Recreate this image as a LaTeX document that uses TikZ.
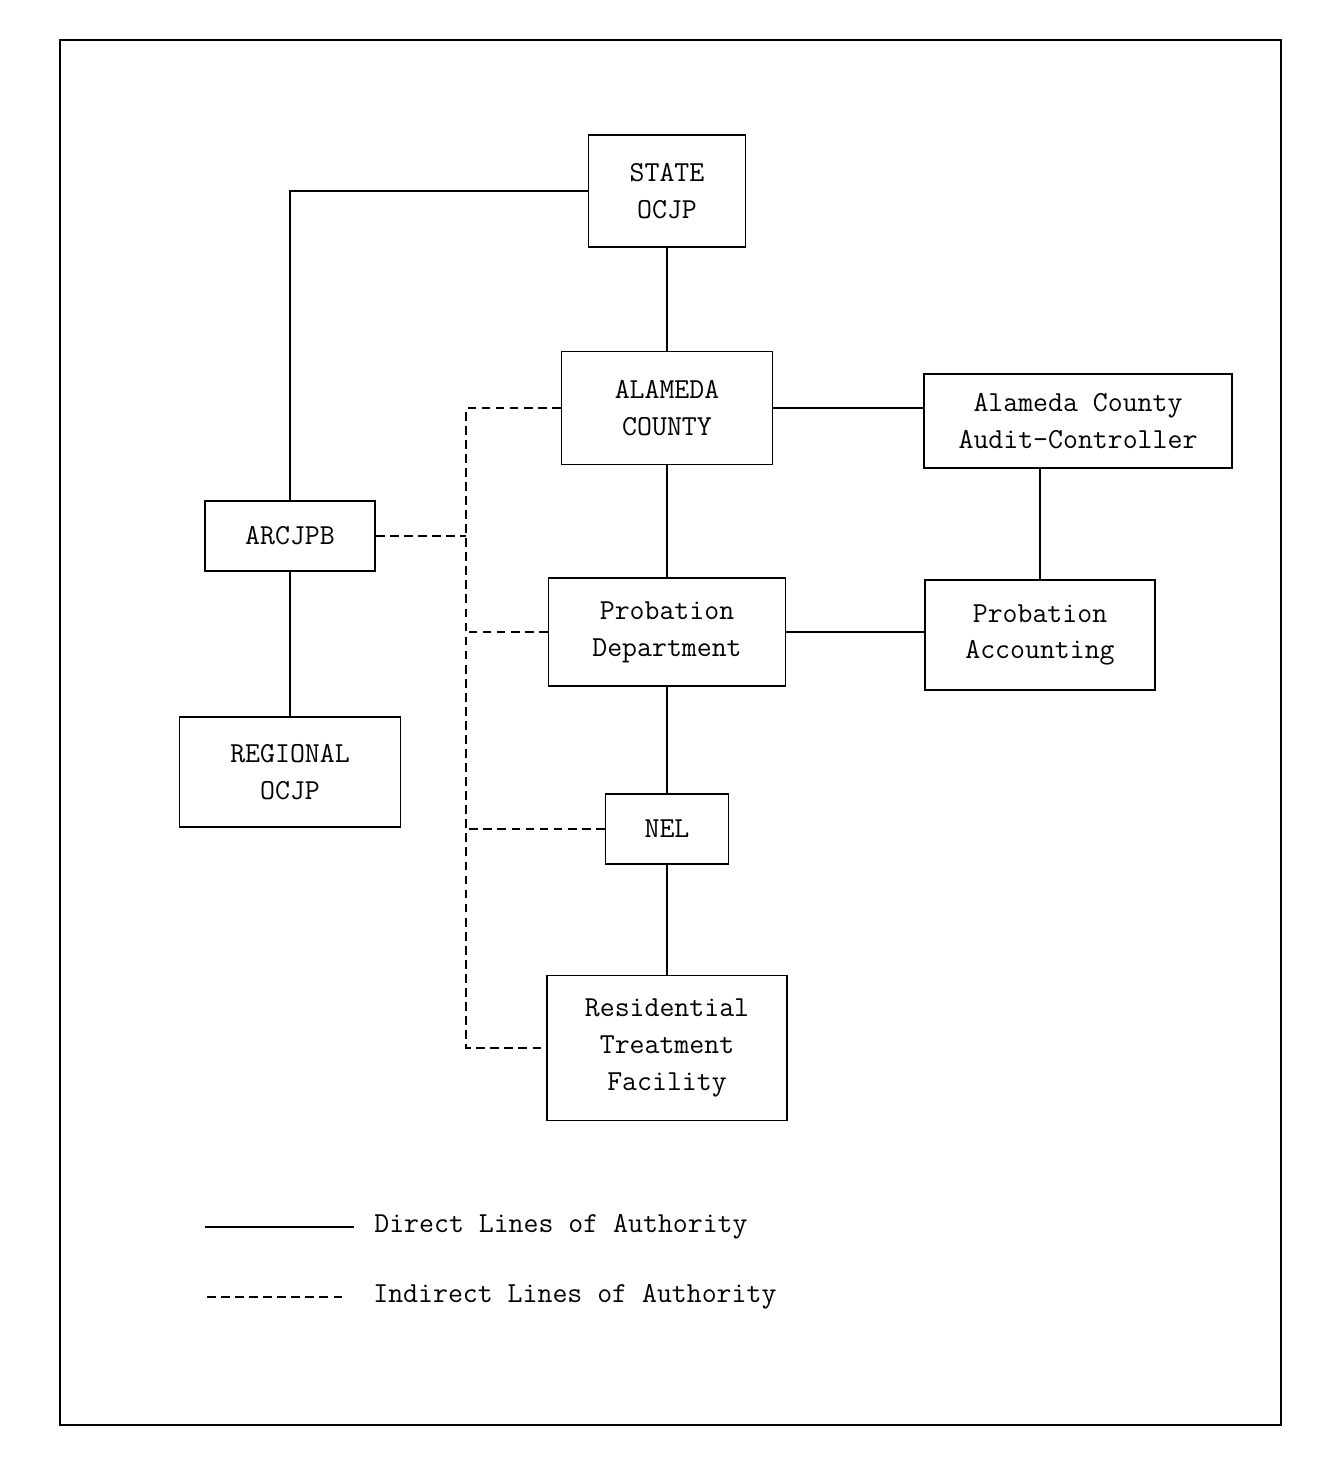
\documentclass[tikz,border=0pt]{standalone}
\usepackage{tikz}
\usetikzlibrary{positioning}

\begin{document}
\begin{tikzpicture}[x=0.02cm,y=-0.02cm,
  caja/.style={draw, line width=1pt, align=center, inner sep=0pt,
    font=\ttfamily\fontsize{16.5}{21}\selectfont},
  leyenda/.style={font=\ttfamily\fontsize{16.5}{21}\selectfont, anchor=west, inner sep=0pt},
  directa/.style={line width=0.8pt},
  indirecta/.style={line width=0.8pt, dash pattern=on 5pt off 3pt}]
  \useasboundingbox (0,0) rectangle (1322,1466);

  % Marco
  \draw[line width=0.8pt] (60,40) rectangle (1281,1425);

  % Cajas
  \node[caja, minimum width=3.14cm, minimum height=2.24cm] (state) at (667,191) {STATE\\OCJP};
  \node[caja, minimum width=4.22cm, minimum height=2.26cm] (county) at (667,408) {ALAMEDA\\COUNTY};
  \node[caja, minimum width=6.16cm, minimum height=1.88cm] (audit) at (1078,421) {Alameda County\\Audit-Controller};
  \node[caja, minimum width=3.4cm, minimum height=1.4cm] (arcjpb) at (290,536) {ARCJPB};
  \node[caja, minimum width=4.74cm, minimum height=2.16cm] (probdept) at (667,632) {Probation\\Department};
  \node[caja, minimum width=4.6cm, minimum height=2.2cm] (probacct) at (1040,635) {Probation\\Accounting};
  \node[caja, minimum width=4.42cm, minimum height=2.2cm] (regional) at (290,772) {REGIONAL\\OCJP};
  \node[caja, minimum width=2.46cm, minimum height=1.4cm] (nel) at (667,829) {NEL};
  \node[caja, minimum width=4.8cm, minimum height=2.9cm] (rtf) at (667,1048) {Residential\\Treatment\\Facility};

  % Lineas directas
  \draw[directa] (state.west) -| (arcjpb.north);
  \draw[directa] (arcjpb) -- (regional);
  \draw[directa] (state) -- (county);
  \draw[directa] (county) -- (probdept);
  \draw[directa] (probdept) -- (nel);
  \draw[directa] (nel) -- (rtf);
  \draw[directa] (county.east) -- (county.east -| audit.west);
  \draw[directa] (probdept.east) -- (probdept.east -| probacct.west);
  \draw[directa] (probacct.north) -- (probacct.north |- audit.south);

  % Lineas indirectas
  \coordinate (bus) at (466,0);
  \draw[indirecta] (county.west) -- (county.west -| bus) -- (rtf.west -| bus) -- (rtf.west);
  \draw[indirecta] (arcjpb.east) -- (arcjpb.east -| bus);
  \draw[indirecta] (probdept.west) -- (probdept.west -| bus);
  \draw[indirecta] (nel.west) -- (nel.west -| bus);

  % Leyenda
  \coordinate (d1) at (205,1227);
  \coordinate (d2) at (354,1227);
  \draw[directa] (d1) -- (d2);
  \node[leyenda, right=0.4cm of d2] (ldirect) {Direct Lines of Authority};
  \coordinate (i1) at (207,1297);
  \coordinate (i2) at (345,1297);
  \draw[indirecta] (i1) -- (i2);
  \node[leyenda, right=0.56cm of i2] (lindirect) {Indirect Lines of Authority};

\end{tikzpicture}
\end{document}
